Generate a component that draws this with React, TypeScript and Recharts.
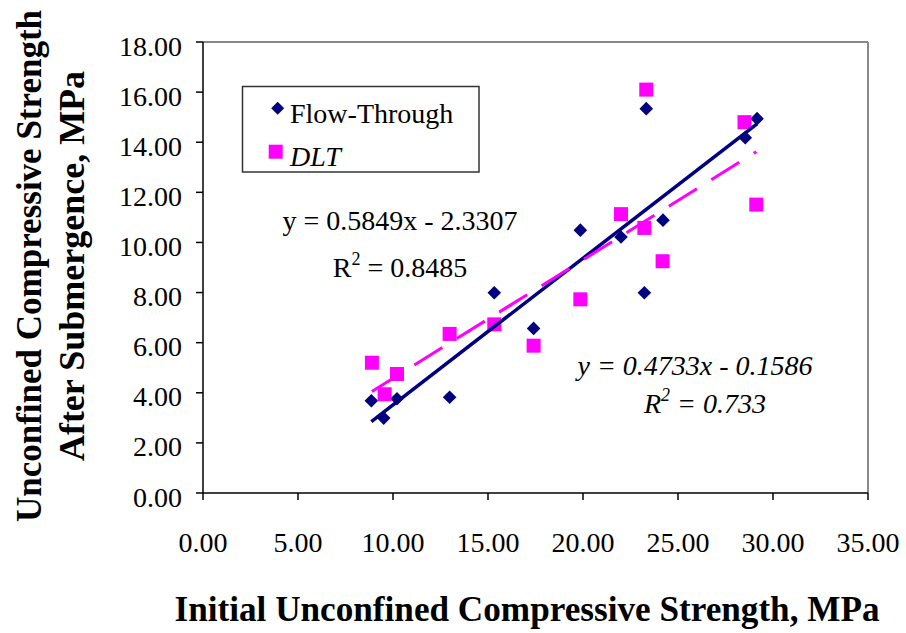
import { ScatterChart, Scatter, XAxis, YAxis, ReferenceLine } from "recharts";

// Flow-Through (navy diamonds)
const flowX = [8.86, 9.51, 10.21, 12.98, 15.33, 17.4, 19.86, 22.0, 23.23, 23.33, 24.21, 28.54, 29.16];
const flowY = [3.68, 2.99, 3.76, 3.82, 7.99, 6.57, 10.49, 10.22, 7.99, 15.34, 10.89, 14.18, 14.94];

// DLT (magenta squares)
const dltX = [8.89, 9.56, 10.21, 12.98, 15.33, 17.4, 19.86, 22.0, 23.23, 23.33, 24.19, 28.5, 29.12];
const dltY = [5.2, 3.94, 4.75, 6.35, 6.73, 5.88, 7.73, 11.13, 10.58, 16.1, 9.25, 14.8, 11.51];

// linear trendline end points
const flowTrendX = [8.86, 29.16];
const flowTrendY = [2.85, 14.73];
const dltTrendX = [8.89, 29.12];
const dltTrendY = [4.05, 13.62];

const xTicks = [0, 5, 10, 15, 20, 25, 30, 35];
const yTicks = [0, 2, 4, 6, 8, 10, 12, 14, 16, 18];

const zip = (xs: number[], ys: number[]) => xs.map((x, i) => ({ x, y: ys[i] }));

const flowData = zip(flowX, flowY);
const dltData = zip(dltX, dltY);
const flowTrend = zip(flowTrendX, flowTrendY);
const dltTrend = zip(dltTrendX, dltTrendY);

const FONT = "'Liberation Serif', 'Times New Roman', serif";
const NAVY = "#000080";
const MAGENTA = "#FF00FF";

const Diamond = (p: any) => {
  const r = 6.8;
  return (
    <path
      d={`M${p.cx},${p.cy - r}L${p.cx + r},${p.cy}L${p.cx},${p.cy + r}L${p.cx - r},${p.cy}Z`}
      fill={NAVY}
    />
  );
};

const Square = (p: any) => (
  <rect x={p.cx - 7} y={p.cy - 7} width={14} height={14} fill={MAGENTA} />
);

const NoDot = () => <g />;

const XTick = (p: any) => (
  <text x={p.x} y={p.y + 52} textAnchor="middle" fontFamily={FONT} fontSize={28} fill="#000">
    {Number(p.payload.value).toFixed(2)}
  </text>
);

const YTick = (p: any) => (
  <text x={p.x - 14} y={p.y + 13.5} textAnchor="end" fontFamily={FONT} fontSize={28} fill="#000">
    {Number(p.payload.value).toFixed(2)}
  </text>
);

export default function App() {
  return (
    <div style={{ position: "absolute", left: 0, top: 0, width: 906, height: 633, background: "#fff" }}>
      <ScatterChart width={906} height={633} margin={{ top: 42, right: 38, bottom: 0, left: 0 }}>
        <XAxis
          type="number"
          dataKey="x"
          domain={[0, 35]}
          ticks={xTicks}
          height={140}
          tickSize={7}
          tickMargin={0}
          tick={XTick}
          axisLine={{ stroke: "#000", strokeWidth: 1.5 }}
          tickLine={{ stroke: "#000", strokeWidth: 1.5 }}
        />
        <YAxis
          type="number"
          dataKey="y"
          domain={[0, 18]}
          ticks={yTicks}
          width={203}
          tickSize={7}
          tickMargin={0}
          tick={YTick}
          axisLine={{ stroke: "#000", strokeWidth: 1.5 }}
          tickLine={{ stroke: "#000", strokeWidth: 1.5 }}
        />
        <ReferenceLine y={18} stroke="#888" strokeWidth={2} />
        <ReferenceLine x={35} stroke="#888" strokeWidth={2} />
        <Scatter data={flowData} shape={Diamond} isAnimationActive={false} />
        <Scatter data={dltData} shape={Square} isAnimationActive={false} />
        <Scatter
          data={flowTrend}
          shape={NoDot}
          line={{ stroke: NAVY, strokeWidth: 3.5 }}
          isAnimationActive={false}
        />
        <Scatter
          data={dltTrend}
          shape={NoDot}
          line={{ stroke: MAGENTA, strokeWidth: 3, strokeDasharray: "33 17" }}
          isAnimationActive={false}
        />
      </ScatterChart>

      <svg
        width={906}
        height={633}
        style={{ position: "absolute", left: 0, top: 0, pointerEvents: "none" }}
        fontFamily={FONT}
      >
        {/* legend */}
        <rect x={242.5} y={86.5} width={236.5} height={85.5} fill="#fff" stroke="#333" strokeWidth={1.5} />
        <path d="M277.7,101.8L284.2,108.3L277.7,114.8L271.2,108.3Z" fill={NAVY} />
        <text x={290} y={123} fontSize={28}>Flow-Through</text>
        <rect x={268.7} y={144.7} width={14} height={14} fill={MAGENTA} />
        <text x={290} y={166} fontSize={28} fontStyle="italic">DLT</text>

        {/* trendline equations */}
        <text x={400} y={230} fontSize={28} textAnchor="middle">y = 0.5849x - 2.3307</text>
        <text x={400} y={277} fontSize={28} textAnchor="middle">
          R<tspan dy={-12} fontSize={18}>2</tspan>
          <tspan dy={12}> = 0.8485</tspan>
        </text>
        <text x={695} y={375} fontSize={28} textAnchor="middle" fontStyle="italic">
          y = 0.4733x - 0.1586
        </text>
        <text x={705} y={413} fontSize={28} textAnchor="middle" fontStyle="italic">
          R<tspan dy={-12} fontSize={18}>2</tspan>
          <tspan dy={12}> = 0.733</tspan>
        </text>

        {/* axis titles */}
        <text
          x={527}
          y={621}
          fontSize={35}
          fontWeight="bold"
          textAnchor="middle"
          textLength={705}
          lengthAdjust="spacingAndGlyphs"
        >
          Initial Unconfined Compressive Strength, MPa
        </text>
        <text
          transform="translate(41, 266) rotate(-90)"
          fontSize={35}
          fontWeight="bold"
          textAnchor="middle"
        >
          Unconfined Compressive Strength
        </text>
        <text
          transform="translate(84, 266) rotate(-90)"
          fontSize={36}
          fontWeight="bold"
          textAnchor="middle"
        >
          After Submergence, MPa
        </text>
      </svg>
    </div>
  );
}
